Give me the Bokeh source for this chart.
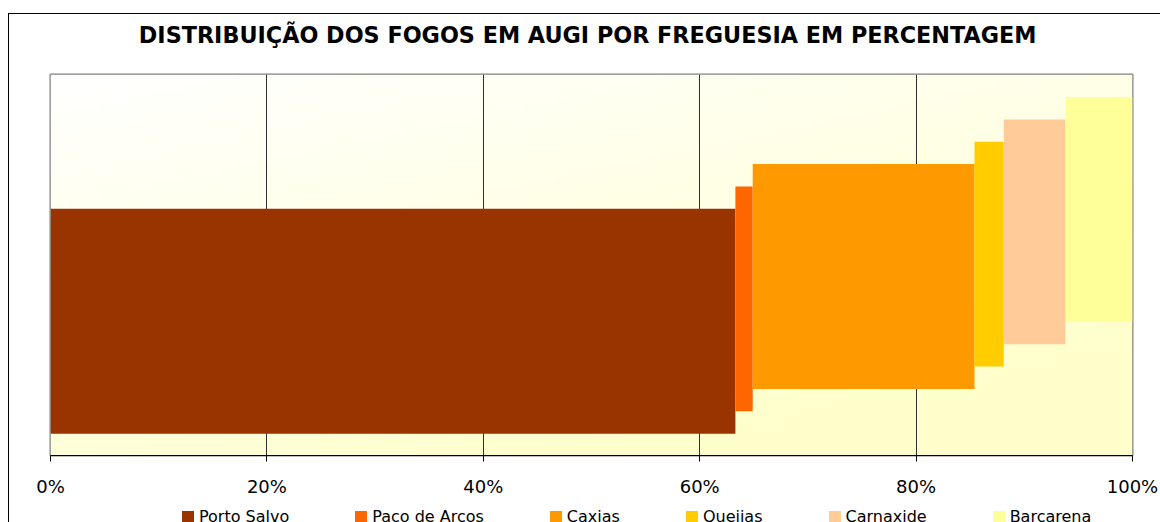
import numpy as np
from bokeh.plotting import figure
from bokeh.layouts import column
from bokeh.models import Range1d, FixedTicker, Legend, LegendItem
from bokeh.embed import file_html
from bokeh.resources import INLINE

# ---- data ----
title_text = "DISTRIBUIÇÃO DOS FOGOS EM AUGI POR FREGUESIA EM  PERCENTAGEM"
freguesias = ["Porto Salvo", "Paco de Arcos", "Caxias", "Queijas", "Carnaxide", "Barcarena"]
percent = [63.3, 1.6, 20.5, 2.7, 5.7, 6.2]
colors = ["#993300", "#FF6600", "#FF9900", "#FFCC00", "#FFCC99", "#FFFF99"]
tick_values = [0, 20, 40, 60, 80, 100]
tick_labels = ["0%", "20%", "40%", "60%", "80%", "100%"]

# ---- geometry (3D stacked bar emulation) ----
base = 0.0574      # bottom of first series
bar_h = 0.590      # bar thickness
depth = 0.0587     # upward shift per series (3D depth)

p = figure(width=1151, height=486, output_backend="svg", toolbar_location=None,
           x_range=Range1d(0, 100), y_range=Range1d(0, 1),
           min_border_left=41, min_border_right=28, min_border_top=58, min_border_bottom=45)

# gradient background (white top-left -> light yellow bottom-right)
n = 64
yy, xx = np.mgrid[0:n, 0:n] / (n - 1)
img = np.empty((n, n), dtype=np.uint32)
view = img.view(dtype=np.uint8).reshape((n, n, 4))
view[:, :, 0] = 255
view[:, :, 1] = 255
view[:, :, 2] = (255 - 51 * np.clip((xx * 0.45 + (1 - yy) * 0.75), 0, 1)).astype(np.uint8)
view[:, :, 3] = 255
bg = p.image_rgba(image=[img], x=0, y=0, dw=100, dh=1)
bg.level = "image"

lefts, rights, bottoms, tops = [], [], [], []
start = 0.0
for i, val in enumerate(percent):
    lefts.append(start)
    rights.append(start + val)
    bottoms.append(base + i * depth)
    tops.append(base + i * depth + bar_h)
    start += val

for i, col in enumerate(colors):
    p.quad(left=[lefts[i]], right=[rights[i]], bottom=[bottoms[i]], top=[tops[i]],
           fill_color=col, line_color=None)

# axes / grid
p.yaxis.visible = False
p.ygrid.visible = False
p.xgrid.ticker = FixedTicker(ticks=tick_values)
p.xgrid.grid_line_color = "#303030"
p.xgrid.grid_line_width = 1
p.xaxis.ticker = FixedTicker(ticks=tick_values)
p.xaxis.major_label_overrides = {v: l for v, l in zip(tick_values, tick_labels)}
p.xaxis.axis_line_color = "#000000"
p.xaxis.major_tick_line_color = "#000000"
p.xaxis.major_tick_out = 6
p.xaxis.major_tick_in = 0
p.xaxis.minor_tick_line_color = None
p.xaxis.major_label_standoff = 14
p.xaxis.major_label_text_font = "DejaVu Sans"
p.xaxis.major_label_text_font_size = "18px"
p.xaxis.major_label_text_color = "#000000"

p.outline_line_color = "#808080"
p.outline_line_width = 2
p.background_fill_color = "#FFFFFF"
p.border_fill_color = "#FFFFFF"

# title
p.title.text = title_text
p.title.align = "center"
p.title.vertical_align = "top"
p.title.text_font = "DejaVu Sans"
p.title.text_font_style = "bold"
p.title.text_font_size = "22.3px"
p.title.text_color = "#000000"
p.title.standoff = 14
if "padding" in p.title.properties():
    p.title.padding = dict(left=0, right=0, top=0, bottom=18)

# ---- legend strip (separate figure so it can sit below the axis) ----
p2 = figure(width=1151, height=22, output_backend="svg", toolbar_location=None,
            x_range=Range1d(0, 100), y_range=Range1d(0, 1),
            min_border_left=0, min_border_right=0, min_border_top=0, min_border_bottom=0)
p2.axis.visible = False
p2.grid.visible = False
p2.outline_line_color = None
p2.background_fill_color = "#FFFFFF"
p2.border_fill_color = "#FFFFFF"

items = []
for i, (name, col) in enumerate(zip(freguesias, colors)):
    r = p2.quad(left=[lefts[i]], right=[rights[i]], bottom=[bottoms[i]], top=[tops[i]],
                fill_color=col, line_color=None)
    r.visible = False   # only used as legend swatch source
    items.append(LegendItem(label=name, renderers=[r]))

legend = Legend(items=items, orientation="horizontal", location=(130, -4),
                glyph_width=15, glyph_height=15, label_standoff=4, spacing=64,
                padding=0, margin=0, border_line_alpha=0, background_fill_alpha=0,
                inactive_fill_alpha=0,
                label_text_font="DejaVu Sans", label_text_font_size="16px",
                label_text_color="#000000")
p2.add_layout(legend, "center")

layout = column(p, p2, spacing=0)
layout.margin = (13, 0, 0, 8)
layout.styles = {"border-top": "1px solid black", "border-left": "1px solid black"}

open("out.html", "w").write(file_html(layout, INLINE))
